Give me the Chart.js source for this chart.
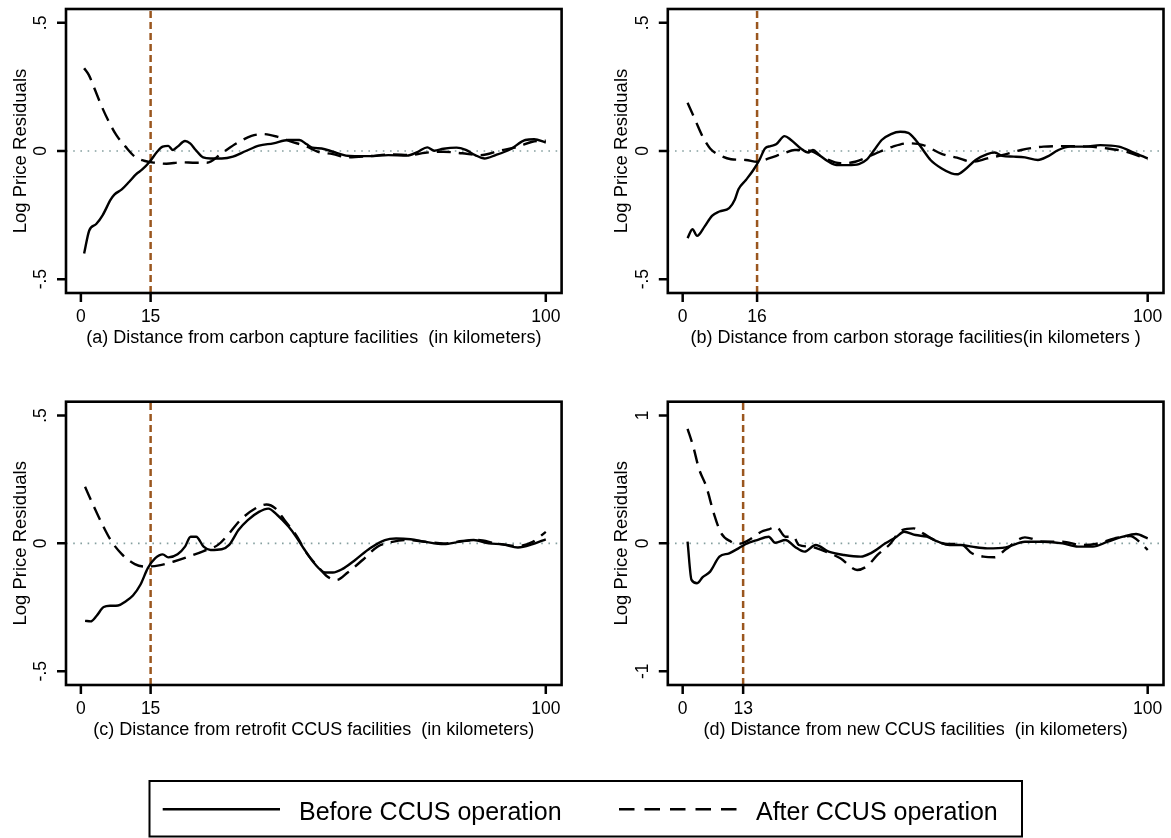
<!DOCTYPE html>
<html>
<head>
<meta charset="utf-8">
<script src="https://cdn.jsdelivr.net/npm/chart.js@4.4.1/dist/chart.umd.min.js"></script>
<style>
    html, body { margin: 0; padding: 0; background: #fff; }
    #wrap { position: relative; width: 1171px; height: 838px; overflow: hidden; }
    canvas { position: absolute; }
</style>
</head>
<body>
<div id="wrap">
    <canvas id="pa" width="585" height="360" style="left:0px;top:0px"></canvas>
    <canvas id="pb" width="586" height="360" style="left:585px;top:0px"></canvas>
    <canvas id="pc" width="585" height="380" style="left:0px;top:360px"></canvas>
    <canvas id="pd" width="586" height="380" style="left:585px;top:360px"></canvas>
    <canvas id="legend" width="1171" height="98" style="left:0px;top:740px"></canvas>
</div>
<script>
// ------------------------------------------------------------
// data (distance in km, log price residuals)
// ------------------------------------------------------------
const xTitles = [
    '(a) Distance from carbon capture facilities  (in kilometers)',
    '(b) Distance from carbon storage facilities(in kilometers )',
    '(c) Distance from retrofit CCUS facilities  (in kilometers)',
    '(d) Distance from new CCUS facilities  (in kilometers)'
];
const yTitle = 'Log Price Residuals';
const cutoffs = [15, 16, 15, 13];
const xTickSets = [[0, 15, 100], [0, 16, 100], [0, 15, 100], [0, 13, 100]];
const yTickSets = [[-0.5, 0, 0.5], [-0.5, 0, 0.5], [-0.5, 0, 0.5], [-1, 0, 1]];
const yTickText = [['-.5', '0', '.5'], ['-.5', '0', '.5'], ['-.5', '0', '.5'], ['-1', '0', '1']];
const yLimits = [0.554, 0.554, 0.554, 1.108];
const xRange = [-3.2, 103.4];
const legendLabels = ['Before CCUS operation', 'After CCUS operation'];

// (a) carbon capture
const aBeforeX = [0.7, 1.8, 3.3, 4.7, 6.4, 7.2, 8.8, 10.4, 11.9, 13.2, 14.8, 16.4, 17.6, 18.8, 19.8, 20.8, 22.4, 23.5, 24.7, 26.3, 27.9, 30.3, 32.7, 35.5, 38.3, 41.4, 44.6, 47, 48.6, 49.8, 51.8, 54.2, 57, 58.9, 62.1, 66.1, 70.1, 72.5, 74.5, 76, 78, 80.8, 82.8, 84.8, 86.8, 89.2, 92.4, 95.6, 97.5, 100];
const aBeforeY = [-0.40, -0.31, -0.285, -0.25, -0.19, -0.17, -0.15, -0.12, -0.09, -0.072, -0.042, -0.003, 0.017, 0.02, 0.004, 0.017, 0.039, 0.03, 0.004, -0.025, -0.029, -0.029, -0.022, 0, 0.021, 0.03, 0.043, 0.043, 0.026, 0.013, 0.01, -0.003, -0.018, -0.02, -0.02, -0.016, -0.018, -0.003, 0.014, 0.001, 0.009, 0.013, 0.004, -0.016, -0.029, -0.016, 0.007, 0.043, 0.046, 0.033];
const aAfterX = [0.7, 1.7, 2.9, 4.5, 6.0, 7.6, 9.6, 11.6, 13.6, 16, 18.4, 21.6, 24.7, 27.1, 30.3, 33.5, 36.7, 39.1, 42.2, 45.4, 48.6, 51, 54.2, 57.4, 62.1, 66.9, 70.9, 74, 78, 82, 86, 90, 94, 97.1, 100];
const aAfterY = [0.323, 0.297, 0.245, 0.173, 0.115, 0.063, 0.017, -0.022, -0.038, -0.046, -0.05, -0.044, -0.046, -0.046, -0.009, 0.03, 0.059, 0.066, 0.056, 0.036, 0.017, -0.003, -0.012, -0.025, -0.02, -0.013, -0.016, -0.007, -0.003, -0.009, -0.016, 0.001, 0.017, 0.036, 0.04];

// (b) carbon storage
const bBeforeX = [1.05, 2.1, 3.1, 4.7, 6.3, 7.9, 10, 11.2, 12, 13.6, 15.2, 16.5, 17.7, 18.9, 20.1, 21.9, 23.3, 25.4, 27, 28, 29.4, 31.4, 33.1, 35.5, 37.9, 39.5, 41.2, 42.8, 44.8, 46.8, 48.5, 50.1, 51.7, 53.3, 55.7, 57.8, 59, 60.6, 63, 65.5, 67.1, 68.7, 71.2, 73.6, 76.4, 78.4, 80.8, 83.3, 86.5, 89.8, 93.8, 97, 100];
const bBeforeY = [-0.34, -0.305, -0.331, -0.295, -0.253, -0.236, -0.223, -0.19, -0.149, -0.113, -0.074, -0.035, 0.01, 0.019, 0.026, 0.058, 0.043, 0.01, -0.006, 0.004, -0.016, -0.042, -0.055, -0.055, -0.051, -0.035, 0.004, 0.043, 0.066, 0.075, 0.071, 0.043, 0.004, -0.035, -0.068, -0.087, -0.091, -0.074, -0.035, -0.012, -0.006, -0.019, -0.022, -0.025, -0.035, -0.022, 0.004, 0.017, 0.017, 0.023, 0.017, -0.006, -0.029];
const bAfterX = [1.05, 2.7, 4.3, 5.9, 7.9, 10.4, 13.6, 16, 18.5, 21.7, 24.1, 27.4, 30.6, 33.9, 37.1, 41.2, 45.2, 48.5, 51.7, 55.8, 59, 62.3, 65.5, 68.7, 72.8, 77.6, 82.5, 87.3, 91.4, 95.4, 100];
const bAfterY = [0.188, 0.121, 0.056, 0.01, -0.016, -0.032, -0.035, -0.042, -0.029, -0.009, 0.004, 0.001, -0.029, -0.048, -0.042, -0.012, 0.017, 0.03, 0.023, -0.012, -0.026, -0.042, -0.029, -0.016, 0.004, 0.017, 0.019, 0.017, 0.01, -0.003, -0.032];

// (c) retrofit CCUS
const cBeforeX = [0.9, 2.1, 3.4, 4.9, 6.4, 8, 9.6, 11.2, 12.8, 14.4, 16, 17.6, 18.8, 20.8, 22.4, 23.6, 24.8, 26.4, 27.9, 30.3, 31.9, 33.9, 35.9, 38.3, 40.3, 42.3, 44.7, 46.3, 47.9, 50.2, 52.6, 54.2, 56.2, 59, 62.2, 65.4, 67.8, 70.9, 74.1, 78.1, 81.3, 84.5, 87.7, 90.8, 94, 97.2, 100];
const cBeforeY = [-0.303, -0.305, -0.283, -0.249, -0.244, -0.243, -0.227, -0.204, -0.162, -0.097, -0.058, -0.043, -0.055, -0.043, -0.013, 0.026, 0.026, -0.013, -0.026, -0.023, -0.006, 0.052, 0.091, 0.123, 0.136, 0.11, 0.065, 0.026, -0.019, -0.078, -0.114, -0.114, -0.101, -0.065, -0.019, 0.013, 0.019, 0.016, 0.006, -0.003, 0.006, 0.013, 0, -0.004, -0.016, -0.003, 0.016];
const cAfterX = [0.9, 2.5, 4.5, 6.4, 8.8, 11.6, 14, 16.8, 20, 23.2, 26.4, 29.5, 31.9, 34.3, 37.5, 39.9, 41.9, 43.9, 46.3, 48.6, 51, 53, 55, 57.4, 60.6, 63.8, 67, 70.1, 74.1, 78.1, 82.1, 85.3, 89.3, 94, 97.2, 100];
const cAfterY = [0.221, 0.156, 0.078, 0.013, -0.042, -0.081, -0.091, -0.086, -0.071, -0.052, -0.03, -0.006, 0.039, 0.091, 0.136, 0.152, 0.136, 0.088, 0.032, -0.039, -0.091, -0.13, -0.143, -0.114, -0.065, -0.013, 0.006, 0.013, 0.006, 0, 0.009, 0.013, 0, -0.01, 0.006, 0.045];

// (d) new CCUS
const dBeforeX = [1.05, 1.9, 3.1, 4.3, 5.9, 7.9, 10, 12, 13.6, 16, 18.5, 19.9, 22.1, 24.1, 26.2, 28.6, 31.4, 34.7, 38.3, 40.4, 43.6, 46, 47.6, 50.1, 52.5, 54.9, 57.4, 59.8, 62.2, 65.5, 69.5, 73.6, 77.6, 81.7, 85, 88.2, 91.4, 94.7, 97.5, 100];
const dBeforeY = [0.013, -0.286, -0.312, -0.265, -0.221, -0.104, -0.078, -0.039, -0.005, 0.026, 0.052, 0.005, 0.026, -0.026, -0.065, -0.013, -0.065, -0.091, -0.104, -0.078, 0, 0.052, 0.091, 0.065, 0.052, 0.013, -0.013, -0.013, -0.026, -0.039, -0.031, 0.013, 0.013, 0, -0.026, -0.026, 0.013, 0.052, 0.073, 0.039];
const dAfterX = [1.05, 2.3, 3.5, 5.1, 6.7, 8.3, 10.4, 12, 14, 16.9, 18.5, 20.1, 22.1, 23.8, 25, 27.4, 29.8, 33.9, 37.5, 39.5, 41.9, 44.4, 47.2, 49.7, 51.7, 54.1, 56.9, 59.8, 62.2, 64.7, 67.1, 69.5, 73.6, 77.6, 81.7, 85.7, 88.8, 92.9, 96.2, 98.6, 100];
const dAfterY = [0.896, 0.753, 0.584, 0.442, 0.234, 0.078, 0.013, -0.005, 0.021, 0.091, 0.109, 0.13, 0.052, 0.052, -0.013, -0.026, -0.052, -0.117, -0.208, -0.182, -0.091, -0.013, 0.104, 0.117, 0.078, 0.026, -0.005, -0.005, -0.078, -0.104, -0.109, -0.047, 0.047, 0.013, 0.013, -0.013, -0.005, 0.039, 0.057, 0, -0.052];

// ------------------------------------------------------------
// look
// ------------------------------------------------------------
const FONT = '"Liberation Sans", Arial, Helvetica, sans-serif';
const INK = '#000000';
const CUT_COLOR = '#9a561e';
const ZERO_COLOR = '#86a0a0';
const SOLID_DASH = [];
const AFTER_DASH = [14, 8];

// plot-area boxes, in canvas pixels
const PANELS = [
    { id: 'pa', w: 585, h: 360, area: { l: 66, t: 9, r: 561.6, b: 293 } },
    { id: 'pb', w: 586, h: 360, area: { l: 82.8, t: 9, r: 578.5, b: 293 } },
    { id: 'pc', w: 585, h: 380, area: { l: 66, t: 41.7, r: 561.6, b: 325 } },
    { id: 'pd', w: 586, h: 380, area: { l: 82.8, t: 41.7, r: 578.5, b: 325 } }
];

function zip(xs, ys) {
    return xs.map((x, i) => ({ x, y: ys[i] }));
}

// frame, ticks and all texts, Stata style
const stataDecor = {
    id: 'stataDecor',
    afterDraw(chart, args, opts) {
        const { ctx, chartArea: a, scales: { x, y } } = chart;
        ctx.save();
        ctx.strokeStyle = INK;
        ctx.fillStyle = INK;
        ctx.lineWidth = 2.6;
        ctx.strokeRect(a.left, a.top, a.right - a.left, a.bottom - a.top);

        ctx.lineWidth = 2.5;
        ctx.beginPath();
        opts.xTicks.forEach(v => {
            const px = x.getPixelForValue(v);
            ctx.moveTo(px, a.bottom);
            ctx.lineTo(px, a.bottom + 9);
        });
        opts.yTicks.forEach(v => {
            const py = y.getPixelForValue(v);
            ctx.moveTo(a.left, py);
            ctx.lineTo(a.left - 9, py);
        });
        ctx.stroke();

        ctx.font = `17.5px ${FONT}`;
        ctx.textAlign = 'center';
        ctx.textBaseline = 'alphabetic';
        opts.xTicks.forEach(v => {
            ctx.fillText(String(v), x.getPixelForValue(v), a.bottom + 29);
        });
        opts.yTicks.forEach((v, k) => {
            ctx.save();
            ctx.translate(a.left - 20, y.getPixelForValue(v));
            ctx.rotate(-Math.PI / 2);
            ctx.fillText(opts.yText[k], 0, 0);
            ctx.restore();
        });

        ctx.font = `18px ${FONT}`;
        ctx.fillText(opts.xTitle, (a.left + a.right) / 2, a.bottom + 49.7);
        ctx.font = `18.5px ${FONT}`;
        ctx.save();
        ctx.translate(a.left - 40.5, (a.top + a.bottom) / 2);
        ctx.rotate(-Math.PI / 2);
        ctx.fillText(yTitle, 0, 0);
        ctx.restore();
        ctx.restore();
    }
};

const seriesSets = [
    [zip(aBeforeX, aBeforeY), zip(aAfterX, aAfterY)],
    [zip(bBeforeX, bBeforeY), zip(bAfterX, bAfterY)],
    [zip(cBeforeX, cBeforeY), zip(cAfterX, cAfterY)],
    [zip(dBeforeX, dBeforeY), zip(dAfterX, dAfterY)]
];

PANELS.forEach((p, i) => {
    const lim = yLimits[i];
    const [before, after] = seriesSets[i];
    const curve = (label, data, dash) => ({
        label, data,
        borderColor: INK,
        borderWidth: 2.4,
        borderDash: dash,
        pointRadius: 0,
        cubicInterpolationMode: 'monotone',
        fill: false
    });

    new Chart(document.getElementById(p.id), {
        type: 'line',
        data: {
            datasets: [
                curve(legendLabels[0], before, SOLID_DASH),
                curve(legendLabels[1], after, AFTER_DASH),
                {
                    label: 'cutoff',
                    data: [{ x: cutoffs[i], y: -lim }, { x: cutoffs[i], y: lim }],
                    borderColor: CUT_COLOR,
                    borderWidth: 2.5,
                    borderDash: [7, 4],
                    pointRadius: 0,
                    tension: 0
                },
                {
                    label: 'zero',
                    data: [{ x: xRange[0], y: 0 }, { x: xRange[1], y: 0 }],
                    borderColor: ZERO_COLOR,
                    borderWidth: 1.6,
                    borderDash: [1.6, 5.6],
                    pointRadius: 0,
                    tension: 0
                }
            ]
        },
        options: {
            responsive: false,
            animation: false,
            devicePixelRatio: 1,
            events: [],
            layout: { padding: { left: 0, top: p.area.t, right: p.w - p.area.r, bottom: 0 } },
            plugins: {
                legend: { display: false },
                tooltip: { enabled: false },
                stataDecor: {
                    xTicks: xTickSets[i],
                    yTicks: yTickSets[i],
                    yText: yTickText[i],
                    xTitle: xTitles[i]
                }
            },
            scales: {
                x: {
                    type: 'linear',
                    min: xRange[0],
                    max: xRange[1],
                    ticks: { display: false },
                    grid: { display: false },
                    border: { display: false },
                    afterFit: s => { s.height = p.h - p.area.b; }
                },
                y: {
                    type: 'linear',
                    min: -lim,
                    max: lim,
                    ticks: { display: false },
                    grid: { display: false },
                    border: { display: false },
                    afterFit: s => { s.width = p.area.l; }
                }
            }
        },
        plugins: [stataDecor]
    });
});

// --- shared legend box under the panels ---
(function drawLegend() {
    const ctx = document.getElementById('legend').getContext('2d');
    ctx.strokeStyle = INK;
    ctx.fillStyle = INK;
    ctx.lineWidth = 2;
    ctx.strokeRect(149.5, 41, 872.5, 55.5);

    ctx.lineWidth = 2.6;
    ctx.beginPath();
    ctx.moveTo(162.7, 69.3);
    ctx.lineTo(280, 69.3);
    ctx.stroke();

    ctx.setLineDash([15.5, 10]);
    ctx.beginPath();
    ctx.moveTo(619, 69.3);
    ctx.lineTo(737.5, 69.3);
    ctx.stroke();
    ctx.setLineDash([]);

    ctx.font = `25px ${FONT}`;
    ctx.textAlign = 'left';
    ctx.textBaseline = 'alphabetic';
    ctx.fillText(legendLabels[0], 299, 79.5);
    ctx.fillText(legendLabels[1], 756, 79.5);
})();
</script>
</body>
</html>
